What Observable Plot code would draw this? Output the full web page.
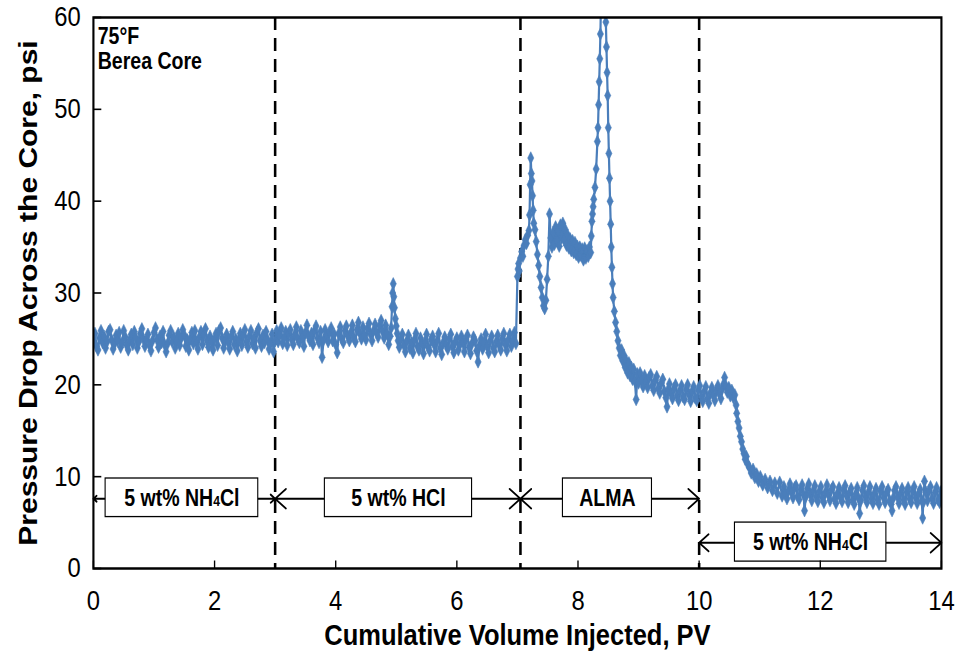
<!DOCTYPE html>
<html>
<head>
<meta charset="utf-8">
<script src="https://cdn.jsdelivr.net/npm/d3@7"></script>
<script src="https://cdn.jsdelivr.net/npm/@observablehq/plot@0.6"></script>
<style>
  html, body { margin: 0; padding: 0; background: white; }
</style>
</head>
<body>
<div id="chart"></div>
<script>
// ---- Data: [cumulative volume injected (PV), pressure drop (psi)] ----
const stageNH4Cl = [
  [0.000,24.8],[0.025,25.6],[0.050,24.2],[0.075,23.8],[0.100,25.1],[0.125,25.9],[0.150,24.6],[0.175,25.3],[0.200,24.0],[0.225,24.7],
  [0.250,25.8],[0.275,26.0],[0.300,24.9],[0.325,23.9],[0.350,24.5],[0.375,25.4],[0.400,24.8],[0.425,25.7],[0.450,24.1],[0.475,24.6],
  [0.500,25.9],[0.525,25.2],[0.550,24.3],[0.575,23.8],[0.600,24.9],[0.625,25.5],[0.650,24.4],[0.675,25.8],[0.700,25.1],[0.725,24.0],
  [0.750,24.7],[0.775,25.6],[0.800,26.1],[0.825,25.0],[0.850,24.2],[0.875,24.9],[0.900,25.5],[0.925,24.3],[0.950,23.7],[0.975,24.8],
  [1.000,25.7],[1.025,26.2],[1.050,24.9],[1.075,24.1],[1.100,25.3],[1.125,24.6],[1.150,25.8],[1.175,24.4],[1.200,23.6],[1.225,24.5],
  [1.250,25.4],[1.275,25.9],[1.300,24.7],[1.325,25.2],[1.350,24.0],[1.375,24.8],[1.400,25.6],[1.425,24.3],[1.450,25.1],[1.475,26.0],
  [1.500,25.4],[1.525,24.2],[1.550,24.9],[1.575,23.8],[1.600,25.0],[1.625,25.7],[1.650,24.5],[1.675,25.9],[1.700,24.6],[1.725,23.9],
  [1.750,25.2],[1.775,25.8],[1.800,24.4],[1.825,25.5],[1.850,26.1],[1.875,24.8],[1.900,24.1],[1.925,25.3],[1.950,24.7],[1.975,23.8],
  [2.000,25.0],[2.025,25.6],[2.050,24.3],[2.075,25.9],[2.100,26.2],[2.125,25.1],[2.150,24.0],[2.175,24.8],[2.200,25.5],[2.225,24.6],
  [2.250,23.9],[2.275,25.2],[2.300,25.8],[2.325,24.4],[2.350,25.0],[2.375,23.7],[2.400,24.9],[2.425,25.6],[2.450,24.3],[2.475,25.4],
  [2.500,26.0],[2.525,24.7],[2.550,24.1],[2.575,25.3],[2.600,25.9],[2.625,24.5],[2.650,25.1],[2.675,24.0],[2.700,25.7],[2.725,26.1],
  [2.750,24.8],[2.775,24.2],[2.800,25.4],[2.825,24.6],[2.850,25.8],[2.875,24.9],[2.900,23.9],[2.925,24.5],[2.950,25.5],[2.975,23.6],
  [3.000,24.8]
];
const stageHCl = [
  [3.025,25.9],[3.050,24.7],[3.075,25.4],[3.100,26.2],[3.125,24.5],[3.150,25.1],[3.175,25.8],[3.200,24.3],[3.225,25.6],[3.250,26.0],
  [3.275,24.9],[3.300,24.4],[3.325,25.5],[3.350,26.3],[3.375,25.0],[3.400,24.6],[3.425,25.9],[3.450,25.2],[3.475,24.2],[3.500,25.7],
  [3.525,26.5],[3.550,25.3],[3.575,24.8],[3.600,25.6],[3.625,24.4],[3.650,25.9],[3.675,26.4],[3.700,25.1],[3.725,24.6],[3.750,25.8],
  [3.775,23.0],[3.800,24.9],[3.825,26.0],[3.850,25.4],[3.875,24.7],[3.900,25.7],[3.925,26.2],[3.950,24.8],[3.975,25.5],[4.000,24.4],
  [4.025,23.5],[4.050,25.6],[4.075,26.3],[4.100,25.0],[4.125,24.6],[4.150,25.9],[4.175,26.4],[4.200,25.3],[4.225,24.8],[4.250,25.7],
  [4.275,26.5],[4.300,25.1],[4.325,24.7],[4.350,26.0],[4.375,26.8],[4.400,25.6],[4.425,25.0],[4.450,26.3],[4.475,25.4],[4.500,24.9],
  [4.525,26.1],[4.550,26.7],[4.575,25.5],[4.600,24.8],[4.625,25.9],[4.650,26.6],[4.675,25.7],[4.700,25.2],[4.725,26.4],[4.750,27.0],
  [4.775,25.8],[4.800,25.1],[4.825,26.5],[4.850,25.6],[4.875,24.4],[4.900,25.3],[4.915,26.2],[4.930,28.5],[4.940,30.0],[4.950,31.0],
  [4.960,29.6],[4.970,28.4],[4.985,27.2],[5.000,26.4],[5.015,25.6],[5.030,24.8],
  [5.050,24.1],[5.075,25.0],[5.100,25.5],[5.125,24.3],[5.150,23.6],[5.175,24.8],[5.200,25.4],[5.225,24.0],[5.250,24.6],[5.275,23.5],
  [5.300,24.9],[5.325,25.6],[5.350,24.2],[5.375,23.8],[5.400,25.1],[5.425,24.5],[5.450,23.4],[5.475,24.7],[5.500,25.5],[5.525,24.1],
  [5.550,23.7],[5.575,24.9],[5.600,25.3],[5.625,24.4],[5.650,23.6],[5.675,24.8],[5.700,25.6],[5.725,24.0],[5.750,23.3],[5.775,24.6],
  [5.800,25.2],[5.825,24.3],[5.850,23.9],[5.875,25.0],[5.900,25.5],[5.925,24.2],[5.950,23.5],[5.975,24.7],[6.000,25.1],[6.025,23.8],
  [6.050,24.4],[6.075,25.3],[6.100,24.6],[6.125,23.6],[6.150,24.9],[6.175,25.4],[6.200,24.1],[6.225,23.4],[6.250,24.5],[6.275,25.2],
  [6.300,24.8],[6.325,23.7],[6.350,22.5],[6.375,24.3],[6.400,25.0],[6.425,23.9],[6.450,24.6],[6.475,25.5],[6.500,24.2],[6.525,23.5],
  [6.550,24.8],[6.575,25.3],[6.600,24.0],[6.625,23.6],[6.650,24.7],[6.675,25.4],[6.700,24.3],[6.725,23.8],[6.750,25.0],[6.775,25.6],
  [6.800,24.4],[6.825,23.7],[6.850,24.9],[6.875,25.5],[6.900,24.2],[6.925,24.8],[6.950,25.7],[6.975,24.5]
];
const stageALMA = [
  [7.00,31.8],[7.01,32.6],[7.02,33.2],[7.03,32.4],[7.05,33.8],[7.07,34.5],[7.09,34.0],[7.11,35.2],[7.13,35.8],[7.15,35.4],
  [7.17,36.3],[7.19,36.8],[7.20,38.5],[7.21,41.8],[7.22,44.7],[7.23,43.0],[7.24,42.2],[7.25,40.6],[7.26,39.0],[7.27,37.6],
  [7.29,36.9],[7.31,35.6],[7.33,34.2],[7.35,33.0],[7.37,31.8],[7.39,30.6],[7.41,29.5],[7.43,28.6],[7.45,28.3],[7.47,29.2],
  [7.49,31.5],[7.51,34.0],[7.53,38.6],[7.55,36.0],[7.57,35.0],[7.59,36.6],[7.61,35.3],[7.63,37.2],[7.65,35.7],[7.67,36.8],
  [7.69,35.1],[7.71,37.4],[7.73,36.0],[7.75,37.6],[7.77,35.8],[7.79,36.9],[7.81,35.2],[7.83,36.3],[7.85,34.9],[7.87,35.9],
  [7.89,34.6],[7.91,35.7],[7.93,34.4],[7.95,35.5],[7.97,34.2],[7.99,35.1],[8.01,33.9],[8.03,35.0],[8.05,34.1],[8.07,34.8],
  [8.09,33.6],[8.11,34.9],[8.13,33.8],[8.15,34.6],[8.17,34.0],[8.19,35.0],[8.21,34.4],[8.22,36.2],[8.23,37.8],[8.24,38.6],
  [8.25,39.4],[8.26,40.2],[8.28,41.5],[8.30,43.5],[8.32,46.5],[8.33,48.0],[8.34,50.5],[8.35,53.0],[8.36,55.5],[8.37,58.2],
  [8.38,62.0],[8.40,70.0],[8.43,74.0],[8.45,68.0],[8.46,59.5],[8.47,56.8],[8.48,54.0],[8.49,51.5],[8.50,48.0],[8.51,45.2],
  [8.52,42.5],[8.53,40.0],[8.54,37.5],[8.55,35.0],[8.56,32.8],[8.57,31.0],[8.58,29.5],[8.60,28.0],[8.62,26.8],[8.64,25.8],
  [8.66,24.8],[8.68,24.0],[8.70,23.2],[8.72,23.8],[8.74,22.6],[8.76,23.2],[8.78,21.9],[8.80,22.6],[8.82,21.3],[8.84,22.4],
  [8.86,21.0],[8.88,21.9],[8.90,20.6],[8.92,21.7],[8.94,20.4],[8.96,18.4],[8.98,21.2],
  [9.000,20.2],[9.025,21.3],[9.050,20.5],[9.075,19.8],[9.100,21.0],[9.125,20.4],[9.150,19.7],[9.175,20.8],[9.200,21.1],[9.225,19.9],
  [9.250,19.4],[9.275,20.5],[9.300,20.9],[9.325,19.6],[9.350,19.1],[9.375,20.2],[9.400,20.6],[9.425,19.3],[9.450,18.6],[9.470,17.6],
  [9.490,19.5],[9.510,20.1],[9.535,19.0],[9.560,18.5],[9.585,19.6],[9.610,20.0],[9.635,18.8],[9.660,18.3],[9.685,19.4],[9.710,19.9],
  [9.735,18.7],[9.760,18.4],[9.785,19.5],[9.810,20.0],[9.835,18.9],[9.860,18.2],[9.885,19.3],[9.910,19.8],[9.935,18.6],[9.960,18.3],
  [9.985,19.4]
];
const stagePostflush = [
  [10.010,19.9],[10.035,18.7],[10.060,18.2],[10.085,19.3],[10.110,19.8],[10.135,18.5],[10.160,18.0],[10.185,19.1],[10.210,19.7],[10.235,18.8],
  [10.260,18.3],[10.285,19.4],[10.310,19.9],[10.335,19.0],[10.360,18.5],[10.385,19.6],[10.405,20.1],[10.420,20.8],[10.440,19.9],[10.465,19.2],
  [10.490,19.7],[10.515,18.8],[10.540,19.4],[10.565,18.6],[10.590,18.9],[10.610,17.8],
  [10.62,16.9],[10.64,16.0],[10.66,15.3],[10.68,14.4],[10.70,13.8],[10.72,13.0],[10.74,12.5],[10.76,11.9],[10.78,12.2],[10.80,11.4],
  [10.83,11.0],[10.86,10.4],[10.89,10.8],[10.92,9.9],[10.95,10.3],[10.98,9.5],[11.01,10.0],[11.05,9.1],[11.09,9.7],[11.13,8.8],
  [11.17,9.5],[11.21,8.5],[11.25,9.3],[11.29,8.2],[11.33,9.4],[11.37,7.9],
  [11.400,8.9],[11.425,8.1],[11.450,7.6],[11.475,8.5],[11.500,9.2],[11.525,8.3],[11.550,7.7],[11.575,8.8],[11.600,9.0],[11.625,7.9],
  [11.650,7.5],[11.675,8.6],[11.700,9.1],[11.725,8.0],[11.740,6.3],[11.760,7.8],[11.785,8.7],[11.810,9.2],[11.835,8.1],[11.860,7.4],
  [11.885,8.5],[11.910,9.0],[11.935,7.8],[11.960,7.3],[11.985,8.4],[12.010,8.9],[12.035,7.7],[12.060,7.2],[12.085,8.3],[12.110,9.1],
  [12.135,8.0],[12.160,7.4],[12.185,8.6],[12.210,8.9],[12.235,7.6],[12.260,7.1],[12.285,8.2],[12.310,8.8],[12.335,7.7],[12.360,7.3],
  [12.385,8.5],[12.410,9.0],[12.435,7.9],[12.460,7.2],[12.485,8.3],[12.510,8.7],[12.535,7.5],[12.560,7.0],[12.585,8.1],[12.610,8.8],
  [12.635,7.6],[12.650,6.0],[12.670,7.4],[12.695,8.5],[12.720,9.0],[12.745,7.8],[12.770,7.2],[12.795,8.3],[12.820,8.9],[12.845,7.6],
  [12.870,7.1],[12.895,8.2],[12.920,8.7],[12.945,7.5],[12.970,7.0],[12.995,8.4],[13.020,8.9],[13.045,7.7],[13.070,7.2],[13.095,8.3],
  [13.120,8.6],[13.145,7.4],[13.170,7.0],[13.185,6.3],[13.200,7.6],[13.225,8.5],[13.250,8.9],[13.275,7.8],[13.300,7.1],[13.325,8.2],
  [13.350,8.7],[13.375,7.5],[13.400,7.0],[13.425,8.3],[13.450,8.8],[13.475,7.6],[13.500,7.2],[13.525,8.4],[13.550,8.9],[13.575,7.7],
  [13.600,7.1],[13.625,8.2],[13.650,8.6],[13.675,7.4],[13.690,5.5],[13.700,7.2],[13.720,9.5],[13.745,8.3],[13.770,7.4],[13.795,8.5],
  [13.820,8.9],[13.845,7.6],[13.870,7.1],[13.895,8.3],[13.920,8.8],[13.945,7.5],[13.970,7.2],[13.995,8.4],[14.000,8.0]
];

// ---- Axis ticks ----
const xTicks = [0, 2, 4, 6, 8, 10, 12, 14];
const yTicks = [0, 10, 20, 30, 40, 50, 60];

// ---- Stage boundaries & annotations ----
const stageBoundaries = [3, 7.05, 10];
const phaseLabels = ["5 wt% NH4Cl", "5 wt% HCl", "ALMA", "5 wt% NH4Cl"];
const phaseStart  = [0, 3, 7.05, 10];
const phaseEnd    = [3, 7.05, 10, 14];
const phaseArrowY = [7.6, 7.6, 7.6, 2.8];
const boxLeft     = [0.2, 3.82, 7.75, 10.59];
const boxRight    = [2.72, 6.25, 9.22, 13.09];
const boxBottom   = [5.6, 5.6, 5.6, 0.75];
const boxTop      = [9.8, 9.8, 9.8, 5.0];
const insetLines  = ["75°F", "Berea Core"];

const series = [...stageNH4Cl, ...stageHCl, ...stageALMA, ...stagePostflush];
const phases = phaseLabels.map((label, i) => ({
  label, start: phaseStart[i], end: phaseEnd[i], y: phaseArrowY[i],
  bx1: boxLeft[i], bx2: boxRight[i], by1: boxBottom[i], by2: boxTop[i],
  mid: (boxLeft[i] + boxRight[i]) / 2
}));

// Drawn at a wider internal width, then squeezed horizontally like the reference image
const W = 1130, H = 656, OUTW = 961;
const k = OUTW / W;
const mL = 93 / k, mR = 20 / k, mT = 17, mB = 88;
const blue = "#4a7ebb";
const font = "'Liberation Sans', Arial, Helvetica, sans-serif";
// inward tick length (≈8 px) expressed along each scale
const tickLenPsi = 0.87, tickLenPV = 0.13;

const svg = Plot.plot({
  width: W,
  height: H,
  marginLeft: mL,
  marginRight: mR,
  marginTop: mT,
  marginBottom: mB,
  style: { fontFamily: font, background: "white", color: "black" },
  x: { domain: [0, 14], ticks: xTicks },
  y: { domain: [0, 60], ticks: yTicks },
  marks: [
    Plot.ruleX(stageBoundaries, { stroke: "black", strokeWidth: 3, strokeDasharray: "13,8" }),
    Plot.line(series, { x: d => d[0], y: d => d[1], stroke: blue, strokeWidth: 2.6, clip: true }),
    Plot.dot(series, { x: d => d[0], y: d => d[1], symbol: "diamond", r: 3.8, fill: blue, stroke: blue, strokeWidth: 0.6, clip: true }),
    Plot.arrow(phases, { x1: "bx1", x2: "start", y1: "y", y2: "y", stroke: "black", strokeWidth: 2, headLength: 12, headAngle: 75 }),
    Plot.arrow(phases, { x1: "bx2", x2: "end", y1: "y", y2: "y", stroke: "black", strokeWidth: 2, headLength: 12, headAngle: 75 }),
    Plot.rect(phases, { x1: "bx1", x2: "bx2", y1: "by1", y2: "by2", fill: "white", stroke: "black", strokeWidth: 1.3 }),
    Plot.text(phases, { x: "mid", y: "y", text: "label", fontSize: 23, fontWeight: "bold", fill: "black" }),
    Plot.text([insetLines[0]], { frameAnchor: "top-left", text: d => d, textAnchor: "start", lineAnchor: "middle", dx: 5, dy: 19, fontSize: 23, fontWeight: "bold", fill: "black" }),
    Plot.text([insetLines[1]], { frameAnchor: "top-left", text: d => d, textAnchor: "start", lineAnchor: "middle", dx: 5, dy: 44, fontSize: 23, fontWeight: "bold", fill: "black" }),
    Plot.link(xTicks, { x1: d => d, x2: d => d, y1: 0, y2: tickLenPsi, stroke: "black", strokeWidth: 1.6 }),
    Plot.link(yTicks, { y1: d => d, y2: d => d, x1: 0, x2: tickLenPV, stroke: "black", strokeWidth: 1.6 }),
    Plot.axisX({ ticks: xTicks, tickSize: 0, tickPadding: 22, fontSize: 28, label: null }),
    Plot.axisY({ ticks: yTicks, tickSize: 0, tickPadding: 15, fontSize: 28, label: null }),
    Plot.text(["Cumulative Volume Injected, PV"], { frameAnchor: "bottom", lineAnchor: "middle", dy: 67, fontSize: 30, fontWeight: "bold", fill: "black", text: d => d }),
    Plot.text(["Pressure Drop Across the Core, psi"], { frameAnchor: "left", textAnchor: "middle", lineAnchor: "middle", dx: -76, rotate: -90, fontSize: 30, fontWeight: "bold", fill: "black", text: d => d }),
    Plot.frame({ stroke: "black", strokeWidth: 2.5 })
  ]
});

// subscript "4" in NH4Cl
const NS = "http://www.w3.org/2000/svg";
svg.querySelectorAll("text").forEach(t => {
  if (t.textContent === "5 wt% NH4Cl" && t.children.length === 0) {
    t.textContent = "";
    const parts = [["5 wt% NH", null], ["4", "0.62em"], ["Cl", null]];
    for (const [s, fs] of parts) {
      const ts = document.createElementNS(NS, "tspan");
      ts.textContent = s;
      if (fs) ts.setAttribute("font-size", fs);
      t.appendChild(ts);
    }
  }
});

svg.setAttribute("width", OUTW);
svg.setAttribute("height", H);
svg.setAttribute("preserveAspectRatio", "none");
svg.style.width = OUTW + "px";
svg.style.height = H + "px";
svg.style.maxWidth = "none";
document.getElementById("chart").appendChild(svg);
</script>
</body>
</html>
